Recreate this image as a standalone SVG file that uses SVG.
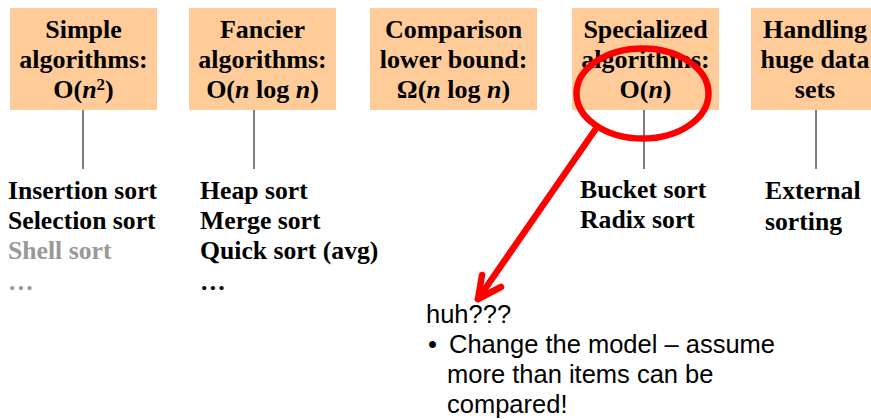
<svg xmlns="http://www.w3.org/2000/svg" width="871" height="419" viewBox="0 0 871 419">
<style>
.box{fill:#FFCC99;stroke:none}
.bt{font-family:"Liberation Serif","Times New Roman",serif;font-weight:bold;font-size:26px;fill:#000;text-anchor:middle}
.lt{font-family:"Liberation Serif","Times New Roman",serif;font-weight:bold;font-size:25.7px;fill:#000}
.gray{fill:#999999}
.it{font-style:italic}
.conn{stroke:#000;stroke-width:1;fill:none}
.note{font-family:"Liberation Sans",Arial,sans-serif;font-size:25.5px;fill:#000}
.red{stroke:#FF0000;stroke-width:6.5;fill:none;stroke-linecap:round;stroke-linejoin:round}
</style>
<rect width="871" height="419" fill="#fff"/>
<g id="connectors">
<line class="conn" x1="83" y1="110" x2="83" y2="169"/>
<line class="conn" x1="254" y1="110" x2="254" y2="169"/>
<line class="conn" x1="644" y1="110" x2="644" y2="169"/>
<line class="conn" x1="816" y1="110" x2="816" y2="169"/>
</g>
<g id="node-simple">
<rect class="box" x="10" y="8" width="147" height="102"/>
<text class="bt" x="83.5" y="38">Simple</text>
<text class="bt" x="83.5" y="68">algorithms:</text>
<text class="bt" x="83.5" y="98">O(<tspan class="it">n</tspan><tspan font-size="17" dy="-8">2</tspan><tspan dy="8">)</tspan></text>
</g>
<g id="node-fancier">
<rect class="box" x="189" y="8" width="147" height="102"/>
<text class="bt" x="262.5" y="38">Fancier</text>
<text class="bt" x="262.5" y="68">algorithms:</text>
<text class="bt" x="262.5" y="98">O(<tspan class="it">n</tspan> log <tspan class="it">n</tspan>)</text>
</g>
<g id="node-lower">
<rect class="box" x="370" y="8" width="167" height="102"/>
<text class="bt" x="453.5" y="38">Comparison</text>
<text class="bt" x="453.5" y="68">lower bound:</text>
<text class="bt" x="453.5" y="98">Ω(<tspan class="it">n</tspan> log <tspan class="it">n</tspan>)</text>
</g>
<g id="node-specialized">
<rect class="box" x="572" y="8" width="147" height="102"/>
<text class="bt" x="645.5" y="38">Specialized</text>
<text class="bt" x="645.5" y="68">algorithms:</text>
<text class="bt" x="645.5" y="98">O(<tspan class="it">n</tspan>)</text>
</g>
<g id="node-huge">
<rect class="box" x="751" y="8" width="128" height="102"/>
<text class="bt" x="815" y="38">Handling</text>
<text class="bt" x="815" y="68">huge data</text>
<text class="bt" x="815" y="98">sets</text>
</g>
<g id="list-simple">
<text class="lt" x="8" y="199">Insertion sort</text>
<text class="lt" x="8" y="229">Selection sort</text>
<text class="lt gray" x="8" y="259">Shell sort</text>
<text class="lt gray" x="8" y="290">…</text>
</g>
<g id="list-fancier">
<text class="lt" x="200" y="199">Heap sort</text>
<text class="lt" x="200" y="229">Merge sort</text>
<text class="lt" x="200" y="259">Quick sort (avg)</text>
<text class="lt" x="200" y="290">…</text>
</g>
<g id="list-specialized">
<text class="lt" x="580" y="198">Bucket sort</text>
<text class="lt" x="580" y="228">Radix sort</text>
</g>
<g id="list-huge">
<text class="lt" x="765" y="199">External</text>
<text class="lt" x="765" y="230">sorting</text>
</g>
<g id="annotation">
<ellipse class="red" cx="642.5" cy="93.5" rx="66" ry="45"/>
<path class="red" d="M595,130 L478,299"/>
<path class="red" d="M482,275 L478,299 L501,287"/>
<text class="note" x="426" y="323">huh???</text>
<text class="note" x="428" y="353">•</text>
<text class="note" x="449" y="353">Change the model – assume</text>
<text class="note" x="447" y="383">more than items can be</text>
<text class="note" x="447" y="413">compared!</text>
</g>
</svg>
